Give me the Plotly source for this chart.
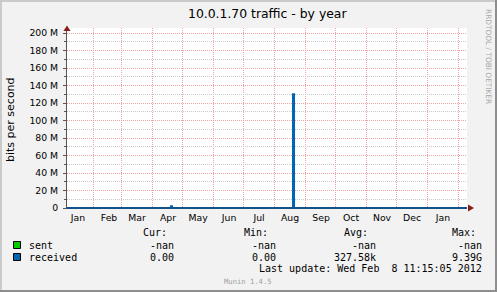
import plotly.graph_objects as go

# ---------------- data ----------------
title = "10.0.1.70 traffic - by year"
y_label = "bits per second"
month_labels = ["Jan", "Feb", "Mar", "Apr", "May", "Jun", "Jul",
                "Aug", "Sep", "Oct", "Nov", "Dec", "Jan"]
month_label_dates = ["2011-01-17", "2011-02-17", "2011-03-17", "2011-04-17",
                     "2011-05-17", "2011-06-17", "2011-07-17", "2011-08-17",
                     "2011-09-17", "2011-10-17", "2011-11-17", "2011-12-17",
                     "2012-01-17"]
y_tick_vals = [0, 20e6, 40e6, 60e6, 80e6, 100e6, 120e6, 140e6, 160e6, 180e6, 200e6]
y_tick_text = ["0", "20 M", "40 M", "60 M", "80 M", "100 M", "120 M",
               "140 M", "160 M", "180 M", "200 M"]

time_start = "2011-01-05 23:15:05"
time_end = "2012-02-09 23:15:05"
dates = ["2011-01-05 23:15:05", "2011-04-20", "2011-04-21",
         "2011-08-20", "2011-08-21", "2012-02-09 23:15:05"]
received = [0, 2e6, 0, 130e6, 0, 0]
sent = [None, None, None, None, None, None]

series_names = ["sent", "received"]
series_colors = ["#00CC00", "#0066B3"]
cur_vals = ["-nan", "0.00"]
min_vals = ["-nan", "0.00"]
avg_vals = ["-nan", "327.58k"]
max_vals = ["-nan", "9.39G"]
headers = ["Cur:", "Min:", "Avg:", "Max:"]
last_update = "Last update: Wed Feb  8 11:15:05 2012"
munin_ver = "Munin 1.4.5"
rrd_credit = "RRDTOOL / TOBI OETIKER"

# ---------------- geometry ----------------
W, H = 497, 292
L, R, T, B = 67, 30, 28, 83
PW, PH = W - L - R, H - T - B


def px(x):
    return (x - L) / PW


def py(y):
    return (H - B - y) / PH


fig = go.Figure()
fig.add_trace(go.Scatter(x=dates, y=sent, mode="lines", line=dict(color=series_colors[0], width=2),
                         line_shape="hv", hoverinfo="skip", showlegend=False))
fig.add_trace(go.Scatter(x=dates, y=received, mode="lines", line=dict(color=series_colors[1], width=2),
                         line_shape="hv", hoverinfo="skip", showlegend=False))

grid_red = "#F3A3A3"
grid_grey = "#C8C8C8"

fig.update_xaxes(
    type="date", range=[time_start, time_end],
    tickmode="array", tickvals=month_label_dates, ticktext=month_labels,
    showgrid=False, ticks="", showline=False, zeroline=False,
    tickfont=dict(family="DejaVu Sans", size=9.3, color="#000"),
    minor=dict(tick0="2011-01-01", dtick="M1", showgrid=True, gridcolor=grid_red,
               griddash="1px,1px", gridwidth=1, ticks=""),
    ticklabelstandoff=2,
)
fig.update_yaxes(
    range=[-1.143e6, 205.714e6],
    tickmode="array", tickvals=y_tick_vals, ticktext=y_tick_text,
    showgrid=True, gridcolor=grid_red, griddash="1px,1px", gridwidth=1,
    zeroline=False, showline=True, linecolor="#555555", linewidth=1,
    ticks="outside", ticklen=3, tickcolor="#555555",
    tickfont=dict(family="DejaVu Sans", size=9.3, color="#000"),
    minor=dict(dtick=10e6, tick0=0, showgrid=True, gridcolor=grid_grey,
               griddash="1px,1px", gridwidth=1, ticks="outside", ticklen=2, tickcolor="#555555"),
    ticklabelstandoff=3,
)

shapes = []
# baseline axis line at zero
shapes.append(dict(type="line", xref="paper", yref="y", x0=0, x1=1, y0=0, y1=0,
                   line=dict(color="#1F3F66", width=1), layer="above"))
# axis arrows
shapes.append(dict(type="path", xref="paper", yref="paper",
                   path=f"M {px(63.5)} {py(31)} L {px(70.5)} {py(31)} L {px(67)} {py(25.5)} Z",
                   fillcolor="#8B1A1A", line=dict(width=0), layer="above"))
shapes.append(dict(type="path", xref="paper", yref="paper",
                   path=f"M {px(468)} {py(204.5)} L {px(468)} {py(211.5)} L {px(474)} {py(208)} Z",
                   fillcolor="#8B1A1A", line=dict(width=0), layer="above"))
# frame of the picture
shapes.append(dict(type="rect", xref="paper", yref="paper", x0=px(0), x1=px(2), y0=py(292), y1=py(0),
                   fillcolor="#CACACA", line=dict(width=0), layer="above"))
shapes.append(dict(type="rect", xref="paper", yref="paper", x0=px(0), x1=px(497), y0=py(2), y1=py(0),
                   fillcolor="#CACACA", line=dict(width=0), layer="above"))
shapes.append(dict(type="rect", xref="paper", yref="paper", x0=px(495), x1=px(497), y0=py(292), y1=py(0),
                   fillcolor="#8E8E8E", line=dict(width=0), layer="above"))
shapes.append(dict(type="rect", xref="paper", yref="paper", x0=px(0), x1=px(497), y0=py(292), y1=py(290),
                   fillcolor="#8E8E8E", line=dict(width=0), layer="above"))

annotations = []


def txt(text, x, y, xanchor="left", size=10, family="DejaVu Sans Mono", color="#000", angle=0, yanchor="middle"):
    annotations.append(dict(text=text, x=px(x), y=py(y), xref="paper", yref="paper",
                            xanchor=xanchor, yanchor=yanchor, showarrow=False, textangle=angle,
                            font=dict(family=family, size=size, color=color)))


txt(title, 267.5, 13.5, xanchor="center", size=12.4, family="DejaVu Sans")
txt(y_label, 11, 119, xanchor="center", size=11, family="DejaVu Sans", angle=-90)
txt(rrd_credit, 489, 56, xanchor="center", size=7.4, family="DejaVu Sans", color="#A8A8A8", angle=90)

# legend table
col_right = [175.5, 277.5, 377.5, 483.5]
head_right = [168.5, 269.5, 369.5, 477.5]
row_y = [245, 257]
for h, xr in zip(headers, head_right):
    txt(h, xr, 232.5, xanchor="right")
for i, name in enumerate(series_names):
    yy = row_y[i]
    shapes.append(dict(type="rect", xref="paper", yref="paper",
                       x0=px(13.5), x1=px(20.5), y0=py(yy + 3.5), y1=py(yy - 3.5),
                       fillcolor=series_colors[i], line=dict(color="#000", width=1), layer="above"))
    txt(name, 26.5, yy)
    for vals, xr in zip([cur_vals, min_vals, avg_vals, max_vals], col_right):
        txt(vals[i], xr, yy, xanchor="right")
txt(last_update, 483.5, 268.5, xanchor="right")
txt(munin_ver, 248, 281.5, xanchor="center", size=7.2, color="#A0A0A0")

fig.update_layout(
    width=W, height=H, autosize=False,
    margin=dict(l=L, r=R, t=T, b=B, pad=0),
    paper_bgcolor="#F2F2F2", plot_bgcolor="#FFFFFF",
    showlegend=False, shapes=shapes, annotations=annotations,
)

fig.write_html("out.html", config={"displayModeBar": False})
